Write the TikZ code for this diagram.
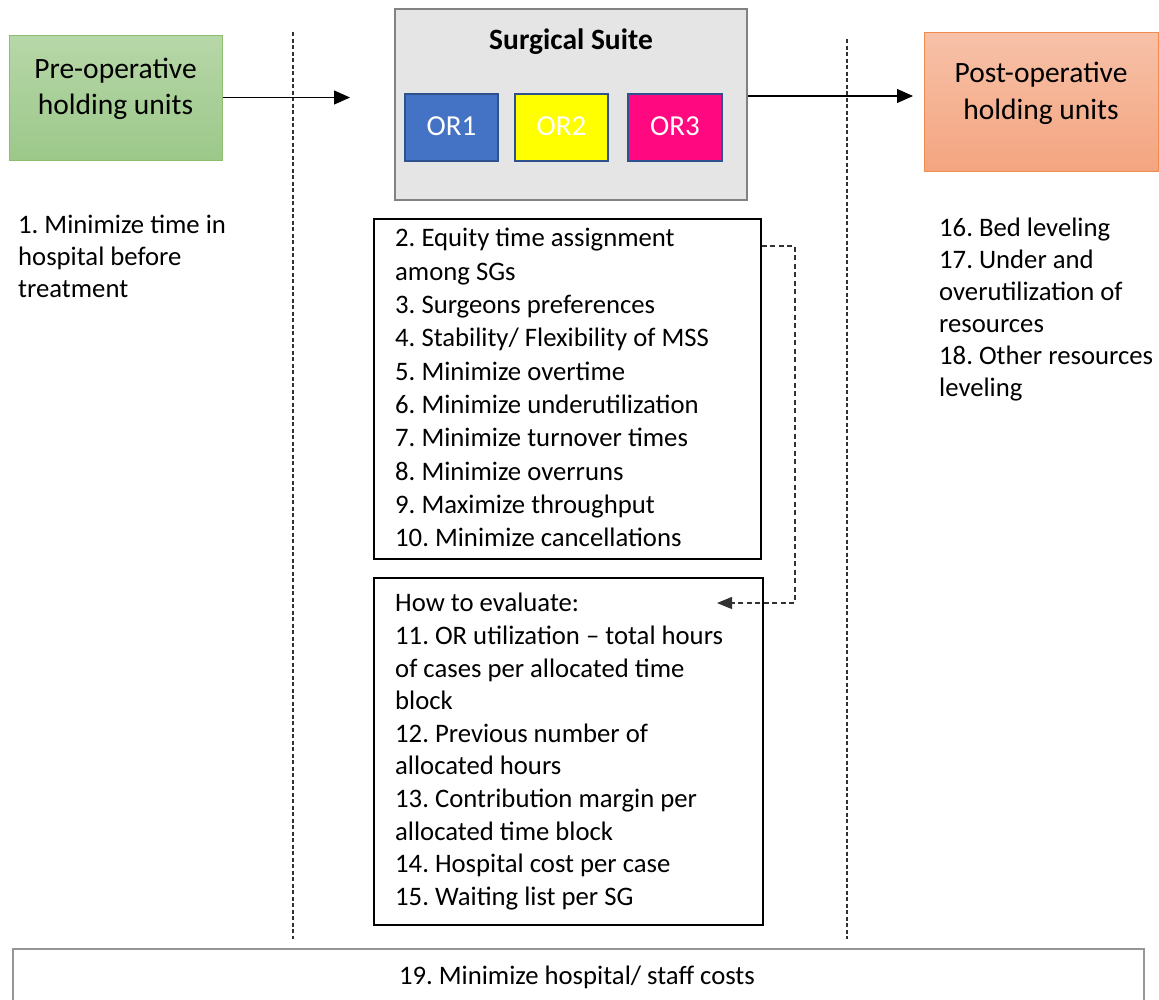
\documentclass[tikz,border=0pt]{standalone}
\usepackage{fontspec}
\setmainfont{Carlito}
\usetikzlibrary{arrows.meta}
\definecolor{pretop}{RGB}{183,215,168}
\definecolor{prebot}{RGB}{156,200,138}
\definecolor{preborder}{RGB}{140,190,110}
\definecolor{posttop}{RGB}{247,193,168}
\definecolor{postbot}{RGB}{244,165,128}
\definecolor{postborder}{RGB}{240,140,80}
\definecolor{suitefill}{RGB}{229,229,229}
\definecolor{suiteborder}{RGB}{130,130,130}
\definecolor{orblue}{RGB}{68,114,196}
\definecolor{orborder}{RGB}{47,82,143}
\definecolor{oryellow}{RGB}{255,255,0}
\definecolor{orpink}{RGB}{255,8,128}
\definecolor{costborder}{RGB}{150,150,150}
\definecolor{dashgray}{RGB}{50,50,50}
\tikzset{
  holdbox/.style={draw, line width=1pt, inner sep=0pt},
  holdlabel/.style={inner sep=0pt, align=center, anchor=north,
    font=\fontsize{29.5}{36.5}\selectfont},
  orbox/.style={draw=orborder, line width=1.5pt, inner sep=0pt, text=white,
    minimum height=67pt, text height=16.5pt, text depth=0pt,
    font=\fontsize{29}{34}\selectfont},
  listbox/.style={draw=black, line width=1.6pt, inner sep=0pt},
  listtxt/.style={inner sep=0pt, align=left, anchor=north west},
  flowarrow/.style={line width=1.2pt, -{Triangle[length=16pt,width=14pt]}},
  linkarrow/.style={line width=1.1pt, draw=dashgray, dash pattern=on 5pt off 3.5pt,
    -{Triangle[length=15pt,width=12pt]}},
  phaseline/.style={line width=1.1pt, draw=dashgray, dash pattern=on 4pt off 2.5pt},
}
\begin{document}
\frenchspacing
\begin{tikzpicture}[x=1pt,y=-1pt]
\useasboundingbox (0,0) rectangle (1159,999);
\clip (0,0) rectangle (1159,999);

% phase separators
\draw[phaseline] (293,32) -- (293,939);
\draw[phaseline] (847,39) -- (847,939);

% pre-operative
\node[holdbox, draw=preborder, top color=pretop, bottom color=prebot,
  minimum width=213pt, minimum height=125pt] (pre) at (115.5,97.5) {};
\node[holdlabel] (prelabel) at (115.5,52.5) {\strut Pre-operative\\holding units};

% surgical suite
\node[draw=suiteborder, line width=2.5pt, fill=suitefill, inner sep=0pt,
  minimum width=352pt, minimum height=191pt] (suite) at (571,104.5) {};
\node[inner sep=0pt, anchor=base, font=\bfseries\fontsize{29.5}{34}\selectfont]
  (suitetitle) at (571,49) {Surgical Suite};
\node[orbox, fill=orblue, minimum width=93pt] (or1) at (451.5,127.5) {OR1};
\node[orbox, fill=oryellow, minimum width=93pt] (or2) at (561.5,127.5) {OR2};
\node[orbox, fill=orpink, minimum width=94pt] (or3) at (675,127.5) {OR3};

% post-operative
\node[holdbox, draw=postborder, top color=posttop, bottom color=postbot,
  minimum width=234pt, minimum height=139pt] (post) at (1041,101.5) {};
\node[holdlabel] (postlabel) at (1041,57) {\strut Post-operative\\holding units};

% flow arrows
\coordinate (preTip) at (350,97.5);
\coordinate (postTip) at (913,96);
\draw[flowarrow] (pre.east) -- (preTip);
\draw[flowarrow] (suite.east |- postTip) -- (postTip);

% left objectives
\node[listtxt, font=\fontsize{26.7}{32}\selectfont] (lefttxt) at (18,210.6)
  {\strut 1. Minimize time in\\hospital before\\treatment};

% right objectives
\node[listtxt, font=\fontsize{26.7}{32}\selectfont] (righttxt) at (939,214.3)
  {\strut 16. Bed leveling\\17. Under and\\overutilization of\\resources\\18. Other resources\\leveling};

% box 2
\node[listbox, minimum width=387pt, minimum height=340pt, anchor=north west]
  (b2) at (373,218) {};
\node[listtxt, font=\fontsize{26.7}{33.3}\selectfont] (b2txt) at (395,223.4)
  {\strut 2. Equity time assignment\\among SGs\\3. Surgeons preferences\\4. Stability/ Flexibility of MSS\\5. Minimize overtime\\6. Minimize underutilization\\7. Minimize turnover times\\8. Minimize overruns\\9. Maximize throughput\\10. Minimize cancellations};

% box 3
\node[listbox, minimum width=389pt, minimum height=347pt, anchor=north west]
  (b3) at (373,577) {};
\node[listtxt, font=\fontsize{26.7}{32.6}\selectfont] (b3txt) at (395,588.9)
  {\strut How to evaluate:\\11. OR utilization – total hours\\of cases per allocated time\\block\\12. Previous number of\\allocated hours\\13. Contribution margin per\\allocated time block\\14. Hospital cost per case\\15. Waiting list per SG};

% dashed link from box 2 to box 3
\coordinate (linkA) at (795,246);
\coordinate (linkTip) at (717,603);
\draw[linkarrow] (b2.east |- linkA) -- (linkA) |- (linkTip);

% bottom box
\node[draw=costborder, line width=2pt, inner sep=0pt, minimum width=1131pt,
  minimum height=90pt, anchor=north west] (costbox) at (12,948) {};
\node[inner sep=0pt, anchor=base, font=\fontsize{26.7}{32}\selectfont]
  (costtxt) at (577,984) {19. Minimize hospital/ staff costs};
\end{tikzpicture}
\end{document}
